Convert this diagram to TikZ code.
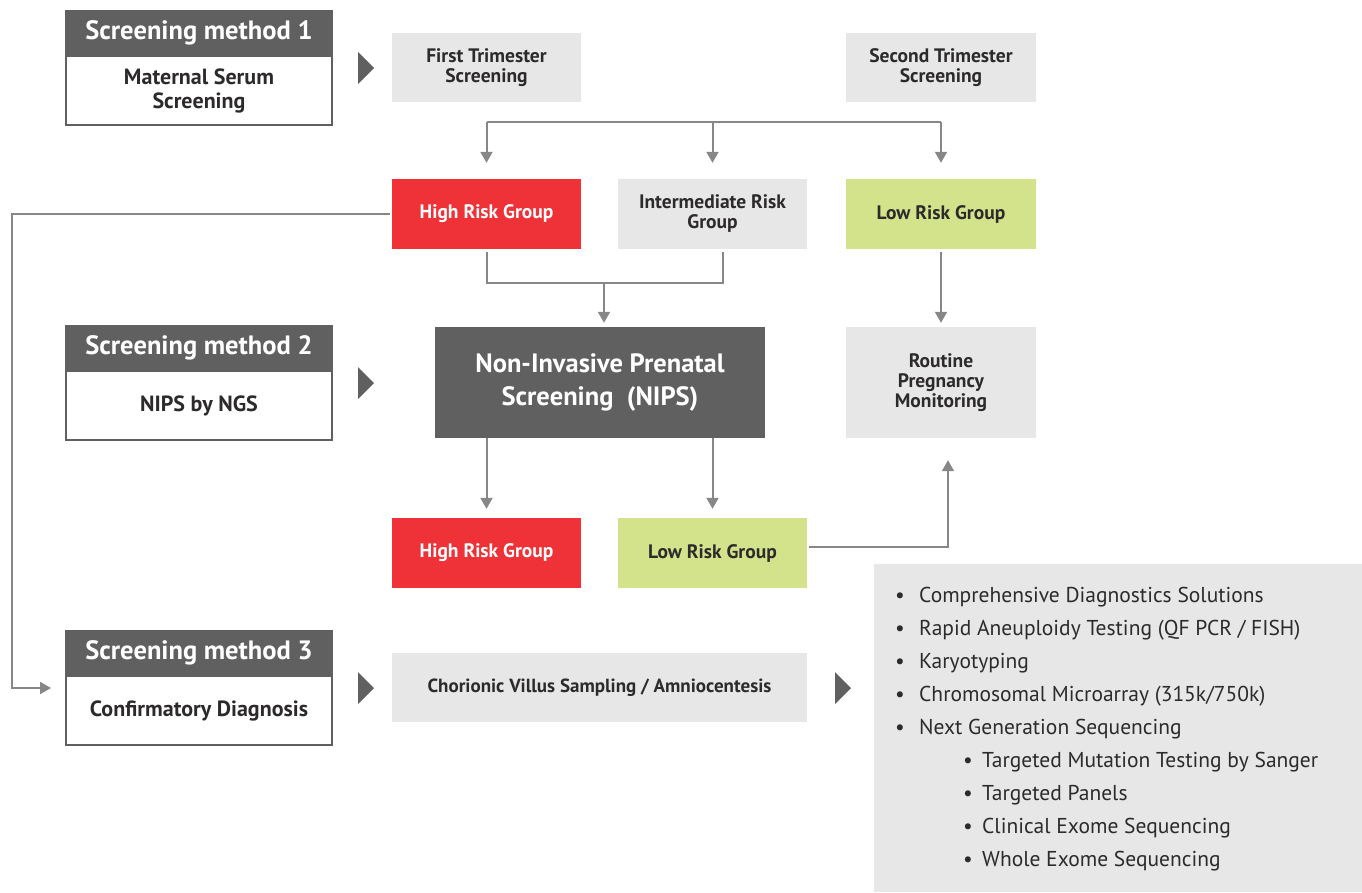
\documentclass[tikz,border=0pt]{standalone}
\usepackage{fontspec}
\setmainfont{PT Sans}
\newfontfamily\labfont{PT Sans}
\usetikzlibrary{arrows.meta}
\definecolor{dark}{HTML}{606060}
\definecolor{lite}{HTML}{E6E7E6}
\definecolor{redg}{HTML}{EE3237}
\definecolor{greeng}{HTML}{D3E38B}
\definecolor{conn}{HTML}{878787}
\definecolor{txt}{HTML}{2D2A2B}
\begin{document}
\begin{tikzpicture}[x=1pt,y=-1pt,
  box/.style={rectangle, inner sep=0pt, align=center, text=txt,
    font=\labfont\bfseries\fontsize{19.5}{20}\selectfont},
  smhead/.style={rectangle, inner sep=0pt, minimum width=268pt, minimum height=46pt,
    fill=dark, text=white, font=\labfont\bfseries\fontsize{26.5}{28}\selectfont},
  smbody/.style={rectangle, inner sep=0pt, minimum width=266pt, minimum height=69pt,
    fill=white, draw=dark, line width=2pt, align=center, text=txt,
    font=\labfont\bfseries\fontsize{22}{24}\selectfont},
  grey/.style={box, fill=lite},
  redbox/.style={box, fill=redg, text=white},
  greenbox/.style={box, fill=greeng},
  conn/.style={draw=conn, line width=2pt},
  arr/.style={conn, -{Triangle[width=12pt,length=11pt]}},
  play/.style={fill=dark},
  item/.style={anchor=base west, inner sep=0pt, text=txt, font=\fontsize{21.5}{24}\selectfont}
]
\useasboundingbox (0,0) rectangle (1362,892);

% Screening method boxes
\node[smbody] (s1b) at (199,90.5) {Maternal Serum\\Screening};
\node[smhead] (s1h) at (199,33) {Screening method 1};
\node[smbody] (s2b) at (199,405.5) {NIPS by NGS};
\node[smhead] (s2h) at (199,348) {Screening method 2};
\node[smbody] (s3b) at (199,710.5) {Confirmatory Diagnosis};
\node[smhead] (s3h) at (199,653) {Screening method 3};

% play markers
\fill[play] (358,52) -- (374,68) -- (358,84) -- cycle;
\fill[play] (358,367) -- (374,383) -- (358,399) -- cycle;
\fill[play] (358,672) -- (374,688) -- (358,704) -- cycle;
\fill[play] (835,672) -- (851,688) -- (835,704) -- cycle;

% boxes
\node[grey, minimum width=189pt, minimum height=69pt] (ft) at (486.5,67.5) {First Trimester\\Screening};
\node[grey, minimum width=190pt, minimum height=69pt] (st) at (941,67.5) {Second Trimester\\Screening};
\node[redbox, minimum width=189pt, minimum height=70pt] (hr1) at (486.5,214) {High Risk Group};
\node[grey, minimum width=189pt, minimum height=70pt] (ir) at (712.5,214) {Intermediate Risk\\Group};
\node[greenbox, minimum width=190pt, minimum height=70pt] (lr1) at (941,214) {Low Risk Group};
\node[box, fill=dark, text=white, minimum width=330pt, minimum height=111pt,
  font=\labfont\bfseries\fontsize{26.5}{33}\selectfont] (nips) at (600,382.5) {Non-Invasive Prenatal\\Screening~~(NIPS)};
\node[grey, minimum width=190pt, minimum height=111pt] (rpm) at (941,382.5) {Routine\\Pregnancy\\Monitoring};
\node[redbox, minimum width=189pt, minimum height=70pt] (hr2) at (486.5,553) {High Risk Group};
\node[greenbox, minimum width=189pt, minimum height=70pt] (lr2) at (712.5,553) {Low Risk Group};
\node[grey, minimum width=415pt, minimum height=69pt, font=\labfont\bfseries\fontsize{19}{20}\selectfont] (cvs) at (599.5,687.5) {Chorionic Villus Sampling / Amniocentesis};
\node[rectangle, fill=lite, minimum width=488pt, minimum height=328pt, inner sep=0pt] (list) at (1118,728) {};

% list text
\foreach \t [count=\i from 0] in {Comprehensive Diagnostics Solutions,
  Rapid Aneuploidy Testing (QF PCR / FISH), Karyotyping,
  Chromosomal Microarray (315k/750k), Next Generation Sequencing}{
  \node[item] (b\i) at (895,602+33*\i) {•};
  \node[item] (t\i) at (919,602+33*\i) {\t};
}
\foreach \t [count=\i from 5] in {Targeted Mutation Testing by Sanger,
  Targeted Panels, Clinical Exome Sequencing, Whole Exome Sequencing}{
  \node[item] (b\i) at (963,602+33*\i) {•};
  \node[item] (t\i) at (982,602+33*\i) {\t};
}

% connectors
\coordinate (tl) at (486.5,122);
\coordinate (tr) at (941,122);
\draw[conn] (tl) -- (tr);
\draw[arr, shorten >=16pt] (tl) -- (hr1.north);
\draw[arr, shorten >=16pt] (ir.north |- tl) -- (ir.north);
\draw[arr, shorten >=16pt] (lr1.north |- tl) -- (lr1.north);

\coordinate (s3in) at (51,688);
\draw[arr] ([xshift=-2pt]hr1.west) -| (12,688) -- (s3in);

\coordinate (j1) at (604,283);
\draw[conn] ([yshift=-3pt]hr1.south) |- (j1) -| ([xshift=10.5pt,yshift=-3pt]ir.south);
\draw[arr, shorten >=4pt] (j1) -- (j1 |- nips.north);
\draw[arr, shorten >=4pt] ([yshift=-3pt]lr1.south) -- (rpm.north);

\draw[arr, shorten >=9pt] (hr2.north |- nips.south) -- (hr2.north);
\draw[arr, shorten >=9pt] (lr2.north |- nips.south) -- (lr2.north);
\draw[arr, shorten >=22pt] ([yshift=6pt,xshift=2pt]lr2.east) -| ([xshift=7pt]rpm.south);
\end{tikzpicture}
\end{document}
